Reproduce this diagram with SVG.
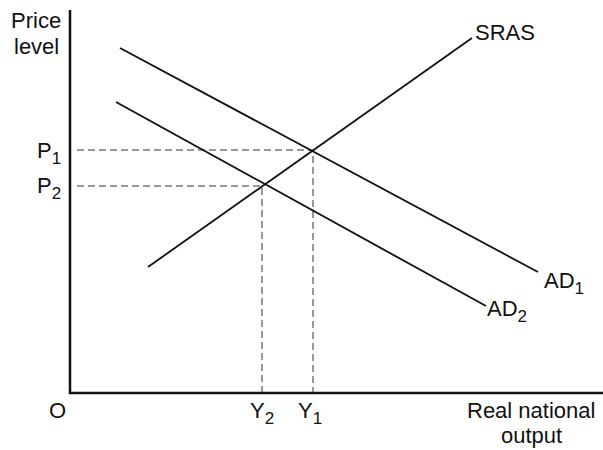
<svg xmlns="http://www.w3.org/2000/svg" width="603" height="450" viewBox="0 0 603 450">
<style>
text{font-family:"Liberation Sans",Arial,sans-serif;font-size:22px;fill:#111}
.sub{font-size:17px}
.ax{stroke:#111;stroke-width:2.5;fill:none}
.ln{stroke:#111;stroke-width:1.8;fill:none}
.ds{stroke:#333;stroke-width:1;stroke-dasharray:7,4;fill:none}
</style>
<rect width="603" height="450" fill="#fff"/>
<g id="axes">
<path class="ax" d="M70,10 V393 H603"/>
</g>
<g id="connectors">
<path class="ds" d="M77,150 H313 V393"/>
<path class="ds" d="M77,186 H262 V393"/>
</g>
<g id="SRAS"><line class="ln" x1="148" y1="267" x2="472" y2="38"/><text x="475" y="40">SRAS</text></g>
<g id="AD1"><line class="ln" x1="120" y1="48" x2="538" y2="272"/><text x="544" y="288">AD<tspan class="sub" dy="6">1</tspan></text></g>
<g id="AD2"><line class="ln" x1="116" y1="102" x2="486" y2="306"/><text x="487" y="316">AD<tspan class="sub" dy="6">2</tspan></text></g>
<g id="labels">
<text x="11" y="28">Price</text>
<text x="14" y="54">level</text>
<text x="37" y="158">P<tspan class="sub" dy="6">1</tspan></text>
<text x="37" y="193">P<tspan class="sub" dy="6">2</tspan></text>
<text x="49" y="418">O</text>
<text x="250" y="418">Y<tspan class="sub" dy="6">2</tspan></text>
<text x="298" y="418">Y<tspan class="sub" dy="6">1</tspan></text>
<text x="467" y="418">Real national</text>
<text x="501" y="443">output</text>
</g>
</svg>
